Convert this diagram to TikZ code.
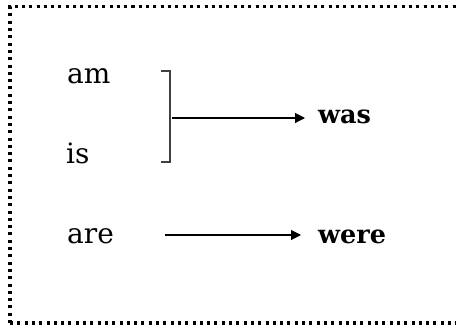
\documentclass[tikz,border=0pt]{standalone}
\usepackage{fontspec}
\setmainfont{DejaVu Serif}
\usetikzlibrary{arrows.meta}
\begin{document}
\begin{tikzpicture}[x=1pt,y=-1pt,
  word/.style={anchor=base west,inner sep=0pt,font=\fontsize{28}{34}\selectfont},
  bword/.style={word,font=\fontsize{25.5}{30}\selectfont\bfseries},
  arr/.style={line width=1.1pt,-{Triangle[length=10pt,width=10pt]}},
  brk/.style={line width=1.3pt,black!75},
  frame/.style={line width=3.2pt,dash pattern=on 3pt off 4.3pt}]
\useasboundingbox (0,0) rectangle (456,325);
\draw[frame] (10,323) -- (10,6.5) -- (456,6.5);
\draw[frame] (10,323) -- (456,323);
\node[word] (am) at (67,83) {am};
\node[word] (is) at (66,163) {is};
\node[word] (are) at (67,243) {are};
\node[bword] (was) at (318,123) {was};
\node[bword] (were) at (318,243) {were};
\coordinate (bt) at (170,71);
\coordinate (bb) at (170,162);
\coordinate (bm) at (172,118);
\coordinate (as) at (165,235);
\draw[brk] (161,71) -- (bt) -- (bb) -- (161,162);
\draw[arr,shorten >=13pt] (bm) -- (bm -| was.west);
\draw[arr,shorten >=17pt] (as) -- (as -| were.west);
\end{tikzpicture}
\end{document}
